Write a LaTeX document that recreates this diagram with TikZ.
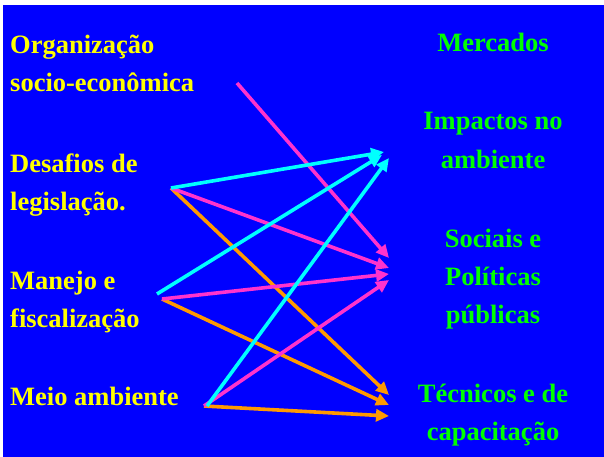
\documentclass[tikz,border=0pt]{standalone}
\usepackage{fontspec}
\setmainfont{Liberation Serif}
\usetikzlibrary{arrows.meta}
\definecolor{bg}{RGB}{0,0,255}
\definecolor{lyel}{RGB}{255,255,0}
\definecolor{rgrn}{RGB}{0,255,0}
\definecolor{cy}{RGB}{0,255,255}
\definecolor{mg}{RGB}{255,51,204}
\definecolor{og}{RGB}{255,153,0}
\begin{document}
\begin{tikzpicture}[x=1pt,y=-1pt,
  lbl/.style={font=\fontsize{26.5}{30}\selectfont\bfseries, inner sep=0pt, text=lyel, anchor=base west},
  rbl/.style={font=\fontsize{26.5}{30}\selectfont\bfseries, inner sep=0pt, text=rgrn, anchor=base},
  conn/.style={line width=3.6pt, -{Triangle[length=13pt,width=12pt]}}]
\useasboundingbox (0,0) rectangle (604,457);
\fill[white] (0,0) rectangle (604,457);
\fill[bg] (3,5) rectangle (604,457);
% left labels
\node[lbl] (org1) at (10,54) {Organização};
\node[lbl] (org2) at (10,92) {socio-econômica};
\node[lbl] (des1) at (10,172) {Desafios de};
\node[lbl] (des2) at (10,210) {legislação.};
\node[lbl] (man1) at (10,289) {Manejo e};
\node[lbl] (man2) at (10,327) {fiscalização};
\node[lbl] (mei)  at (10,405) {Meio ambiente};
% right labels
\node[rbl] (mer)  at (493,52)  {Mercados};
\node[rbl] (imp1) at (493,130) {Impactos no};
\node[rbl] (imp2) at (493,168) {ambiente};
\node[rbl] (soc1) at (493,247) {Sociais e};
\node[rbl] (soc2) at (493,285) {Políticas};
\node[rbl] (soc3) at (493,323) {públicas};
\node[rbl] (tec1) at (493,402) {Técnicos e de};
\node[rbl] (tec2) at (493,440) {capacitação};
% connector endpoints
\coordinate (sOrg) at (237,83);
\coordinate (sDes) at (171,188);
\coordinate (sManC) at (157,294);
\coordinate (sMan) at (162,299);
\coordinate (sMei) at (204,406);
\coordinate (sMeiC) at (207,406);
\coordinate (tImp1) at (384,152);
\coordinate (tImp0) at (382,155);
\coordinate (tImp2) at (389,158);
\coordinate (tSoc1) at (389,258);
\coordinate (tSoc2) at (389,268);
\coordinate (tSoc3) at (389,274);
\coordinate (tSoc4) at (389,280);
\coordinate (tTec1) at (389,395);
\coordinate (tTec2) at (389,405);
\coordinate (tTec3) at (389,416);
% connectors
\draw[conn, og] (sDes) -- (tTec1);
\draw[conn, og] (sMan) -- (tTec2);
\draw[conn, og] (sMei) -- (tTec3);
\draw[conn, mg] (sOrg) -- (tSoc1);
\draw[conn, mg] (sDes) -- (tSoc2);
\draw[conn, mg] (sMan) -- (tSoc3);
\draw[conn, mg] (sMei) -- (tSoc4);
\draw[conn, cy] (sDes) -- (tImp1);
\draw[conn, cy] (sManC) -- (tImp0);
\draw[conn, cy] (sMeiC) -- (tImp2);
\end{tikzpicture}
\end{document}
